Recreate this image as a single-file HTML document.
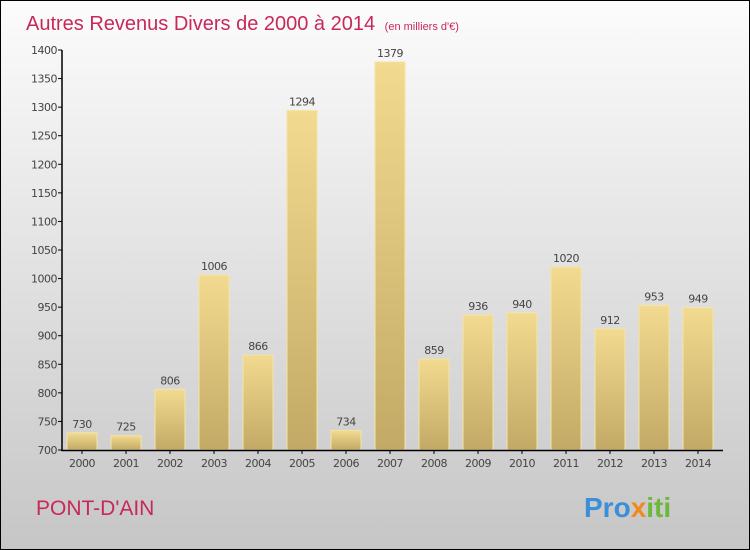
<!DOCTYPE html>
<html><head><meta charset="utf-8"><style>
body{margin:0;}
#c{width:748px;height:548px;border:1px solid #000;background:linear-gradient(#fcfcfc,#c6c6c6);position:relative;font-family:"DejaVu Sans","Liberation Sans",sans-serif;overflow:hidden}
</style></head><body>
<div id="c">
<svg id="s" width="748" height="548" xmlns="http://www.w3.org/2000/svg">
<defs><linearGradient id="g" x1="0" y1="0" x2="0" y2="1"><stop offset="0" stop-color="#f2da90"/><stop offset="1" stop-color="#c2aa66"/></linearGradient></defs>
<text x="25" y="29" font-size="20" fill="#c8285a" font-family="Liberation Sans, sans-serif">Autres Revenus Divers de 2000 à 2014 <tspan font-size="11" dx="4">(en milliers d'€)</tspan></text>
<text x="35" y="514" font-size="21" fill="#c8285a" font-family="Liberation Sans, sans-serif">PONT-D'AIN</text>
<text x="583" y="516" font-size="28" font-weight="bold" font-family="Liberation Sans, sans-serif"><tspan fill="#3a8fd8">Pro</tspan><tspan fill="#f08a1c">x</tspan><tspan fill="#6cb83a">iti</tspan></text>
<g id="plot"></g>
</svg></div>
<script>
const years=["2000","2001","2002","2003","2004","2005","2006","2007","2008","2009","2010","2011","2012","2013","2014"];
const values=[730,725,806,1006,866,1294,734,1379,859,936,940,1020,912,953,949];
const ticks=[700,750,800,850,900,950,1000,1050,1100,1150,1200,1250,1300,1350,1400];
const NS="http://www.w3.org/2000/svg",g=document.getElementById('plot');
const y=v=>449-(v-700)/700*400, x=i=>81+i*44;
function mk(t,a,txt){const e=document.createElementNS(NS,t);for(const k in a)e.setAttribute(k,a[k]);if(txt!=null)e.textContent=txt;g.appendChild(e);return e;}
ticks.forEach(t=>{const e=mk('line',{x1:57,x2:61,y1:y(t),y2:y(t),stroke:'#000'});


const l=mk('text',{x:56,y:y(t)+4,'font-size':11,'text-anchor':'end',fill:'#444','letter-spacing':'-0.5'},t);

});
values.forEach((v,i)=>{const r=mk('rect',{x:x(i)-15,y:y(v),width:30,height:449-y(v),fill:'url(#g)',stroke:'#f6e4a4','stroke-width':1});


const t=mk('text',{x:x(i),y:y(v)-5,'font-size':11,'text-anchor':'middle',fill:'#444','letter-spacing':'-0.5'},v);


const k=mk('line',{x1:x(i),x2:x(i),y1:449,y2:453,stroke:'#000'});


const xl=mk('text',{x:x(i),y:466,'font-size':11,'text-anchor':'middle',fill:'#444','letter-spacing':'-0.5'},years[i]);

});
const ax=mk('path',{d:'M61 49V449.5H722',stroke:'#000','stroke-width':1.5,fill:'none'});


</script></body></html>
